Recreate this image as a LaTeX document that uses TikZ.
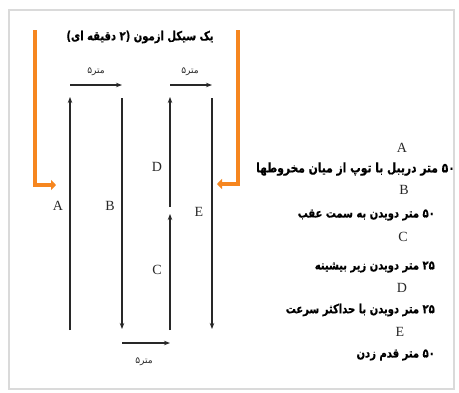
\documentclass[tikz,border=0pt]{standalone}
\usepackage{fontspec}
\usepackage{graphicx}
\setmainfont{Liberation Serif}
\newfontfamily\fa[Script=Arabic]{DejaVu Sans}
\newfontfamily\fabold[Script=Arabic,FakeBold=0.6]{DejaVu Sans Bold}
\TeXXeTstate=1
\newcommand\tallfa[1]{\scalebox{1}[1.25]{#1}}
\usetikzlibrary{arrows.meta}
\definecolor{frameg}{RGB}{218,218,218}
\definecolor{orng}{RGB}{246,134,31}
\definecolor{ink}{RGB}{40,40,40}
\tikzset{
 run/.style={draw=ink, line width=1.2pt, -{Stealth[length=6pt,width=4.5pt]}},
 flow/.style={draw=orng, line width=4pt, line join=miter, -{Triangle[length=5pt,width=10pt]}},
 lbl/.style={font=\fontsize{14}{14}\selectfont, inner sep=0pt, text=ink},
 dist/.style={font=\fa\fontsize{9}{9}\selectfont, inner sep=0pt, text=ink},
 fatext/.style={font=\fabold\fontsize{10}{10}\selectfont, inner sep=0pt, text=black},
}
\begin{document}
\begin{tikzpicture}[x=1pt,y=-1pt]
\useasboundingbox (0,0) rectangle (459,392);
\fill[white] (0,0) rectangle (459,392);
\draw[frameg, line width=1.6pt] (9,10) rectangle (454,389);

% orange flow arrows
\coordinate (OLt) at (35,30);
\coordinate (OLc) at (35,185);
\coordinate (OLe) at (56,185);
\coordinate (ORt) at (238,30);
\coordinate (ORc) at (238,184);
\coordinate (ORe) at (217,184);
\draw[flow] (OLt) -- (OLc) -- (OLe);
\draw[flow] (ORt) -- (ORc) -- (ORe);

% lanes
\coordinate (Abot) at (70,330);
\coordinate (Atop) at (70,97);
\coordinate (Btop) at (122,98);
\coordinate (Bbot) at (122,329);
\coordinate (Dbot) at (170,207);
\coordinate (Dtop) at (170,97);
\coordinate (Cbot) at (170,330);
\coordinate (Ctop) at (170,214);
\coordinate (Etop) at (212,98);
\coordinate (Ebot) at (212,329);
\coordinate (T1a) at (70,85);
\coordinate (T1b) at (122,85);
\coordinate (T2a) at (170,85);
\coordinate (T2b) at (212,85);
\coordinate (Ba) at (122,343);
\coordinate (Bb) at (170,343);

\draw[run] (Abot) -- (Atop);
\draw[run] (Btop) -- (Bbot);
\draw[run] (Dbot) -- (Dtop);
\draw[run] (Cbot) -- (Ctop);
\draw[run] (Etop) -- (Ebot);
\draw[run] (T1a) -- (T1b);
\draw[run] (T2a) -- (T2b);
\draw[run] (Ba) -- (Bb);

% distance labels
\node[dist] (d1) at (96,72) {\beginR متر۵\endR};
\node[dist] (d2) at (190,72) {\beginR متر۵\endR};
\node[dist] (d3) at (144,362) {\beginR متر۵\endR};

% lane letters
\node[lbl] (la) at (58,206) {A};
\node[lbl] (lb) at (110,206) {B};
\node[lbl] (ld) at (157,167) {D};
\node[lbl] (lc) at (157,270) {C};
\node[lbl] (le) at (199,212) {E};

% title
\node[fatext] (title) at (140,37) {\tallfa{\beginR یک سیکل ازمون (۲ دقیقه ای)\endR}};

% legend
\node[lbl] (ka) at (402,148) {A};
\node[fatext, anchor=east, font=\fabold\fontsize{10.7}{10.7}\selectfont] (ta) at (455,169) {\tallfa{\beginR ۵۰ متر دریبل با توپ از میان مخروطها\endR}};
\node[lbl] (kb) at (404,190) {B};
\node[fatext, anchor=east] (tb) at (435,215) {\tallfa{\beginR ۵۰ متر دویدن به سمت عقب\endR}};
\node[lbl] (kc) at (403,237) {C};
\node[fatext, anchor=east] (tc) at (435,267) {\tallfa{\beginR ۲۵ متر دویدن زیر بیشینه\endR}};
\node[lbl] (kd) at (402,288) {D};
\node[fatext, anchor=east] (td) at (435,310) {\tallfa{\beginR ۲۵ متر دویدن با حداکثر سرعت\endR}};
\node[lbl] (ke) at (400,332) {E};
\node[fatext, anchor=east] (te) at (435,355) {\tallfa{\beginR ۵۰ متر قدم زدن\endR}};
\end{tikzpicture}
\end{document}
